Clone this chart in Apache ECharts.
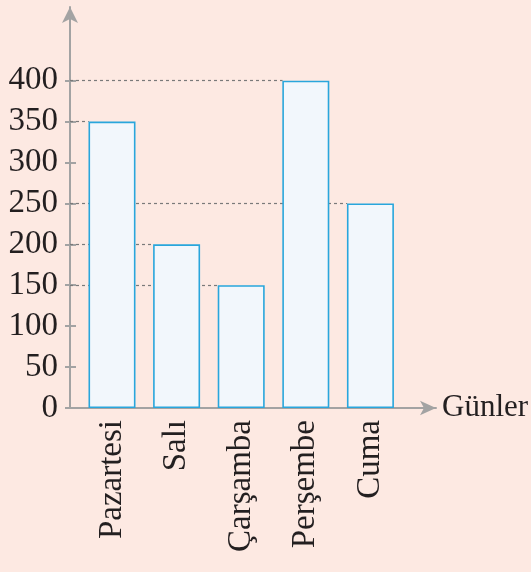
<!DOCTYPE html>
<html>
<head>
<meta charset="utf-8">
<script src="https://cdn.jsdelivr.net/npm/echarts@6/dist/echarts.min.js"></script>
<style>
html,body{margin:0;padding:0;background:#fde9e2;}
#c{width:531px;height:572px;}
</style>
</head>
<body>
<div id="c"></div>
<script>
const days = ['Pazartesi', 'Salı', 'Çarşamba', 'Perşembe', 'Cuma'];
const values = [350, 200, 150, 400, 250];
const yTicks = [0, 50, 100, 150, 200, 250, 300, 350, 400];
const xName = 'Günler';

const FONT = '"Liberation Serif", "Times New Roman", serif';
const X_MIN = -0.65, X_MAX = 5.015, Y_MAX = 490;
const BAR_HALF = 0.36; // half bar width in category units
const idx = days.map((d, i) => i);

const chart = echarts.init(document.getElementById('c'));
chart.setOption({
  backgroundColor: '#fde9e2',
  animation: false,
  grid: { left: 70, right: 95, top: 7, bottom: 164, outerBoundsMode: 'none', containLabel: false },
  xAxis: {
    type: 'value', min: X_MIN, max: X_MAX,
    name: xName, nameLocation: 'end', nameGap: 6,
    nameTextStyle: { fontFamily: FONT, fontSize: 31, color: '#231f20' },
    axisLine: { show: true, onZero: false, lineStyle: { color: '#a3a3a3', width: 2 }, symbol: ['none', 'arrow'], symbolSize: [11, 16] },
    axisTick: { show: false },
    splitLine: { show: false },
    axisLabel: {
      customValues: idx, rotate: 90, margin: 12,
      formatter: v => days[Math.round(v)],
      fontFamily: FONT, fontSize: 33, color: '#231f20'
    }
  },
  yAxis: [{
    type: 'value', min: 0, max: Y_MAX,
    axisLine: { show: true, onZero: false, lineStyle: { color: '#a3a3a3', width: 2 }, symbol: ['none', 'arrow'], symbolSize: [12, 16] },
    axisTick: { show: true, customValues: yTicks, length: 5, lineStyle: { color: '#a3a3a3', width: 2 } },
    splitLine: { show: false },
    axisLabel: { customValues: yTicks, margin: 12, fontFamily: FONT, fontSize: 33, color: '#231f20' }
  }, {
    type: 'value', min: 0, max: Y_MAX, position: 'left',
    axisLine: { show: false, onZero: false },
    axisTick: { show: true, inside: true, customValues: yTicks, length: 6, lineStyle: { color: '#a3a3a3', width: 2 } },
    splitLine: { show: false },
    axisLabel: { show: false }
  }],
  series: [{
    type: 'bar',
    z: 3,
    barWidth: 47,
    data: values.map((v, i) => [i, v]),
    itemStyle: { color: '#f2f7fc', borderColor: '#29a6dc', borderWidth: 1.6 },
    markLine: {
      z: 1,
      silent: true,
      symbol: ['none', 'none'],
      label: { show: false },
      lineStyle: { type: [3, 3], color: '#7a7a7a', width: 1.2 },
      data: values.map((v, i) => [{ coord: [X_MIN, v] }, { coord: [i - BAR_HALF, v] }])
    }
  }]
});
</script>
</body>
</html>
